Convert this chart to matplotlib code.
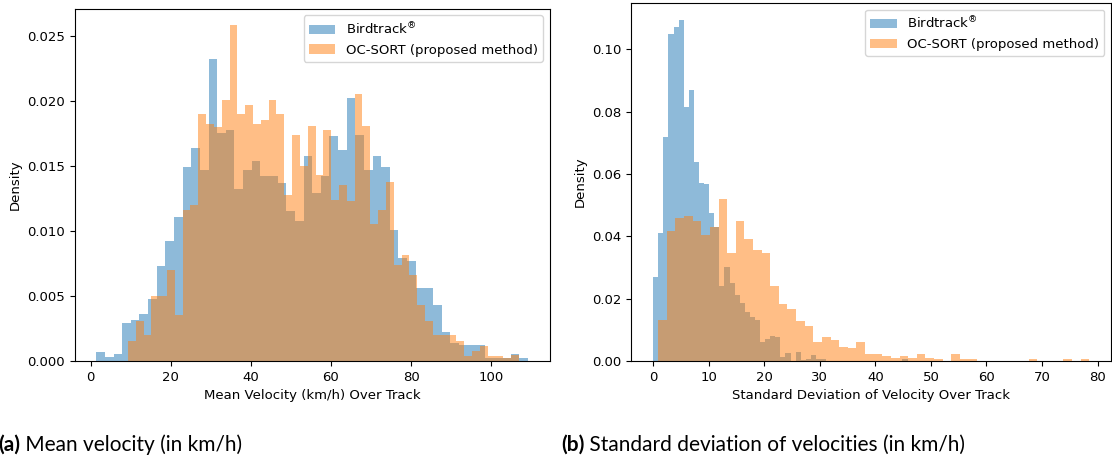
import numpy as np
import matplotlib
matplotlib.use("Agg")
import matplotlib.pyplot as plt

plt.rcParams["font.size"] = 9.5

# ---- (a) mean velocity over track, density per bin (50 bins each) ----
mean_birdtrack_range = (1.4, 109.2)
mean_birdtrack = [
    0.00072, 0.00028, 0.00051, 0.0029, 0.00315, 0.0036, 0.0048, 0.0073, 0.0092, 0.0111,
    0.0149, 0.0164, 0.0147, 0.0232, 0.0175, 0.0178, 0.0132, 0.0147, 0.0154, 0.0142,
    0.0142, 0.0137, 0.0115, 0.0108, 0.0158, 0.0129, 0.0142, 0.0173, 0.0162, 0.0202,
    0.0174, 0.0147, 0.0158, 0.0149, 0.0101, 0.0079, 0.0077, 0.0056, 0.0056, 0.0043,
    0.0022, 0.0014, 0.0012, 0.0012, 0.0012, 0.0002, 0.0002, 0.00026, 0.00051, 0.00026,
]
mean_ocsort_range = (9.3, 106.9)
mean_ocsort = [
    0.00154, 0.0031, 0.0020, 0.0050, 0.0050, 0.0070, 0.00354, 0.0116, 0.0120, 0.0190,
    0.0182, 0.0180, 0.0201, 0.0258, 0.0190, 0.0197, 0.0182, 0.0185, 0.0201, 0.0190,
    0.0128, 0.0174, 0.0150, 0.0181, 0.0143, 0.0178, 0.0124, 0.0135, 0.0123, 0.0205,
    0.0181, 0.0105, 0.0116, 0.0138, 0.0074, 0.00815, 0.0066, 0.0043, 0.0031, 0.0020,
    0.0020, 0.0020, 0.00156, 0.00041, 0.00077, 0.00115, 0.00038, 0.00038, 0.00026, 0.00044,
]

# ---- (b) standard deviation of velocity over track ----
std_birdtrack_range = (0.0, 45.8)
std_birdtrack = [
    0.0271, 0.0412, 0.0720, 0.1049, 0.1073, 0.1094, 0.0814, 0.0868, 0.0640, 0.0572,
    0.0567, 0.0474, 0.0430, 0.0241, 0.0303, 0.0249, 0.0212, 0.0185, 0.0156, 0.0140,
    0.0132, 0.0062, 0.0071, 0.0081, 0.0076, 0.0014, 0.0025, 0.0, 0.0028, 0.0003,
    0.0006, 0.0019, 0.0006, 0.0006, 0.0, 0.0, 0.0, 0.0, 0.0, 0.0,
    0.0, 0.0, 0.0, 0.0, 0.0, 0.0, 0.0, 0.0, 0.0, 0.0006,
]
std_ocsort_range = (0.9, 78.5)
std_ocsort = [
    0.0132, 0.0417, 0.0458, 0.0466, 0.0449, 0.0404, 0.0431, 0.0519, 0.0346, 0.0449,
    0.0392, 0.0356, 0.0346, 0.0241, 0.0182, 0.0166, 0.0128, 0.0112, 0.0060, 0.0076,
    0.0067, 0.0045, 0.0041, 0.0060, 0.0022, 0.0022, 0.0016, 0.0011, 0.0016, 0.0009,
    0.0022, 0.0011, 0.0006, 0.0, 0.0022, 0.0006, 0.0006, 0.0, 0.0, 0.0,
    0.0, 0.0, 0.0, 0.0006, 0.0, 0.0, 0.0, 0.0006, 0.0, 0.0006,
]

series_labels = [r"Birdtrack$^{\circledR}$", "OC-SORT (proposed method)"]
xlabels = ["Mean Velocity (km/h) Over Track",
           "Standard Deviation of Velocity Over Track"]
caption_tags = ["(a)", "(b)"]
caption_texts = [" Mean velocity (in km/h)",
                 " Standard deviation of velocities (in km/h)"]

W, H = 1112, 459
fig = plt.figure(figsize=(W / 100, H / 100), dpi=100)


def px_axes(x0, x1, y0, y1):
    return fig.add_axes([x0 / W, 1 - y1 / H, (x1 - x0) / W, (y1 - y0) / H])


ax_a = px_axes(74.7, 549.6, 8.7, 361)
ax_b = px_axes(631.4, 1111.0, 3.0, 361)


def draw_hist(ax, rng, dens, label, color):
    edges = np.linspace(rng[0], rng[1], len(dens) + 1)
    ax.hist(edges[:-1], bins=edges, weights=dens, alpha=0.5, color=color, label=label)


panels = [
    (ax_a, [(mean_birdtrack_range, mean_birdtrack), (mean_ocsort_range, mean_ocsort)]),
    (ax_b, [(std_birdtrack_range, std_birdtrack), (std_ocsort_range, std_ocsort)]),
]
for (ax, series), xl in zip(panels, xlabels):
    for (rng, dens), lab, col in zip(series, series_labels, ["tab:blue", "tab:orange"]):
        draw_hist(ax, rng, dens, lab, col)
    ax.set_xlabel(xl)
    ax.set_ylabel("Density")
    ax.legend(loc="upper right")

ax_a.set_xticks([0, 20, 40, 60, 80, 100])
ax_a.set_yticks([0, 0.005, 0.010, 0.015, 0.020, 0.025])
ax_a.yaxis.set_major_formatter(matplotlib.ticker.FormatStrFormatter("%.3f"))
ax_b.set_xticks(range(0, 81, 10))
ax_b.set_yticks([0, 0.02, 0.04, 0.06, 0.08, 0.10])
ax_b.yaxis.set_major_formatter(matplotlib.ticker.FormatStrFormatter("%.2f"))

# subfigure captions: bold tag followed by regular text
fig.canvas.draw()
renderer = fig.canvas.get_renderer()
for x0, tag, txt in zip([-2, 561], caption_tags, caption_texts):
    t = fig.text(x0 / W, 1 - 451 / H, tag, family="Lato", fontweight="bold",
                 fontsize=15, va="baseline", ha="left")
    bb = t.get_window_extent(renderer)
    fig.text(bb.x1 / W, 1 - 451 / H, txt, family="Lato", fontsize=15,
             va="baseline", ha="left")

fig.savefig("out.png", dpi=100)
